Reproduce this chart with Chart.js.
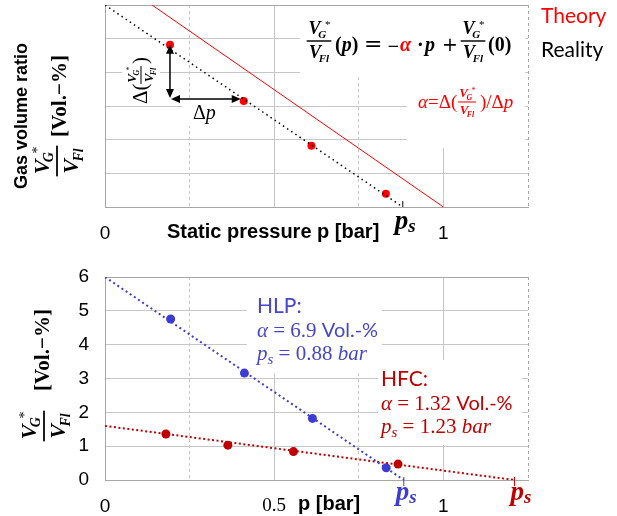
<!DOCTYPE html>
<html>
<head>
<meta charset="utf-8">
<script src="https://cdn.jsdelivr.net/npm/chart.js@4.4.1/dist/chart.umd.min.js"></script>
<style>
  body { margin: 0; background: #fff; }
  #wrap { position: relative; width: 617px; height: 516px; }
  canvas { position: absolute; left: 0; top: 0; }
</style>
</head>
<body>
<div id="wrap">
  <canvas id="top-chart" width="617" height="516"></canvas>
  <canvas id="bottom-chart" width="617" height="516"></canvas>
</div>
<script>
// Bottom chart: measured points (p in bar, gas volume ratio in Vol.-%)
const hlpPressure = [0.194, 0.412, 0.613, 0.831];
const hlpRatio = [4.76, 3.16, 1.82, 0.36];
const hfcPressure = [0.180, 0.363, 0.557, 0.866];
const hfcRatio = [1.36, 1.03, 0.84, 0.47];

// Fitted lines (start and end)
const hlpFitPressure = [0, 0.883];
const hlpFitRatio = [6, 0];
const hfcFitPressure = [0, 1.21];
const hfcFitRatio = [1.6, 0];

// Top sketch
const sketchPressure = [0.192, 0.41, 0.61, 0.83];
const sketchRatio = [4.82, 3.15, 1.82, 0.39];
const theoryPressure = [0.139, 1];
const theoryRatio = [6, 0];
const realityPressure = [0, 0.88];
const realityRatio = [6, 0];

// Tick labels that are shown
const xLabelsTop = [0, 1];
const xLabelsBottom = [0, 0.5, 1];
const yLabelsBottom = [0, 1, 2, 3, 4, 5, 6];

const SERIF = '"Liberation Serif", "DejaVu Serif", serif';
const SANS = '"Liberation Sans", Arial, sans-serif';
const LATO = 'Lato, "Open Sans", sans-serif';
const MATH = '"DejaVu Sans", sans-serif';

const RED = '#ff0000';
const DARK_RED = '#c00000';
const BLUE = '#3c3cd4';
const BLUE_TEXT = '#4646cc';
const GRID = '#c6c6c6';
const FRAME = '#a6a6a6';

function pts(xs, ys) {
    return xs.map((x, i) => ({ x: x, y: ys[i] }));
}

// draw a list of text pieces one after another on one baseline
function runs(ctx, x, y, list, color) {
    ctx.textAlign = 'left';
    ctx.textBaseline = 'alphabetic';
    list.forEach(r => {
        ctx.font = r.f;
        ctx.fillStyle = r.c || color;
        ctx.fillText(r.t, x, y + (r.dy || 0));
        x += ctx.measureText(r.t).width;
    });
    return x;
}

// V with subscript (and star), returns its width
function vSym(ctx, x, y, sub, star, size, draw) {
    ctx.textAlign = 'left';
    ctx.textBaseline = 'alphabetic';
    ctx.font = 'italic bold ' + size + 'px ' + SERIF;
    const vw = ctx.measureText('V').width;
    if (draw) ctx.fillText('V', x, y);
    const s = Math.round(size * 0.62);
    ctx.font = 'italic bold ' + s + 'px ' + SERIF;
    const sw = ctx.measureText(sub).width;
    const sx = x + vw - size * 0.12;
    if (draw) ctx.fillText(sub, sx, y + size * 0.22);
    if (star && draw) {
        ctx.font = s + 'px ' + SERIF;
        ctx.fillText('*', sx + sw * 0.85, y - size * 0.32);
    }
    return vw - size * 0.12 + sw + (star ? s * 0.3 : 0);
}

// VG*/VFl fraction, line centred at (cx, cy)
function frac(ctx, cx, cy, size) {
    const nw = vSym(ctx, 0, 0, 'G', true, size, false);
    const dw = vSym(ctx, 0, 0, 'Fl', false, size, false);
    const w = Math.max(nw, dw) + size * 0.2;
    vSym(ctx, cx - nw / 2, cy - size * 0.38, 'G', true, size, true);
    ctx.fillRect(cx - w / 2, cy - size * 0.04, w, Math.max(1, size * 0.08));
    vSym(ctx, cx - dw / 2, cy + size * 0.95, 'Fl', false, size, true);
    return w;
}

function rotated(ctx, x, y, fn) {
    ctx.save();
    ctx.translate(x, y);
    ctx.rotate(-Math.PI / 2);
    fn();
    ctx.restore();
}

function head(ctx, x, y, ang) {
    ctx.save();
    ctx.translate(x, y);
    ctx.rotate(ang);
    ctx.beginPath();
    ctx.moveTo(0, 0);
    ctx.lineTo(-9, -4);
    ctx.lineTo(-9, 4);
    ctx.closePath();
    ctx.fill();
    ctx.restore();
}

function psLabel(ctx, x, y, color) {
    runs(ctx, x, y, [
        { t: 'p', f: 'italic bold 27px ' + SERIF },
        { t: 's', f: 'italic bold 19px ' + SERIF, dy: 3 }
    ], color);
}

function xGridColor(c) {
    return c.tick && (c.tick.value === 0 || c.tick.value === 1.25) ? FRAME : GRID;
}
function xGridDash(c) {
    return c.tick && (c.tick.value * 4) % 2 === 1 ? [3, 3] : [];
}
function yGridColor(c) {
    return c.tick && (c.tick.value === 0 || c.tick.value === 6) ? FRAME : GRID;
}

// Notes of the top sketch
const topNotes = {
    id: 'topNotes',
    beforeDatasetsDraw(chart) {
        const ctx = chart.ctx;
        ctx.save();
        ctx.fillStyle = '#fff';
        ctx.fillRect(300, 6, 225, 71);
        ctx.fillRect(407, 77, 118, 71);
        ctx.fillRect(122, 48, 38, 58);
        ctx.fillRect(182, 100, 48, 26);
        ctx.restore();
    },
    afterDraw(chart) {
        const ctx = chart.ctx;
        const xs = chart.scales.x, ys = chart.scales.y;
        ctx.save();

        // labels on the right
        runs(ctx, 541, 23, [{ t: 'Theory', f: '21px ' + LATO }], RED);
        runs(ctx, 541, 57, [{ t: 'Reality', f: '21px ' + LATO }], '#000');

        // axis titles
        ctx.fillStyle = '#000';
        rotated(ctx, 22, 116, () => {
            ctx.font = 'bold 18px ' + SANS;
            ctx.textAlign = 'center';
            ctx.textBaseline = 'middle';
            ctx.fillText('Gas volume ratio', 0, 0);
        });
        rotated(ctx, 57, 161, () => frac(ctx, 0, 0, 22));
        rotated(ctx, 61, 96, () => {
            ctx.font = 'bold 21px ' + SERIF;
            ctx.textAlign = 'center';
            ctx.textBaseline = 'middle';
            ctx.fillText('[Vol.\u2212%]', 0, 0);
        });
        runs(ctx, 167, 238, [{ t: 'Static pressure p [bar]', f: 'bold 20px ' + SANS }], '#000');

        // saturation pressure mark
        const px = xs.getPixelForValue(realityPressure[1]);
        ctx.strokeStyle = '#000';
        ctx.lineWidth = 1;
        ctx.beginPath();
        ctx.moveTo(px, ys.bottom - 6);
        ctx.lineTo(px, ys.bottom);
        ctx.stroke();
        psLabel(ctx, px - 8, 229, '#000');

        // equation
        ctx.fillStyle = '#000';
        frac(ctx, 319, 41, 18);
        const B = 'bold 20px ' + SERIF, BI = 'italic bold 20px ' + SERIF;
        runs(ctx, 335, 51, [{ t: '(', f: B }, { t: 'p', f: BI }, { t: ')', f: B }], '#000');
        runs(ctx, 364, 51, [{ t: '=', f: '22px ' + MATH }], '#000');
        runs(ctx, 387, 51, [{ t: '\u2212', f: '15px ' + MATH }], '#000');
        runs(ctx, 400, 51, [{ t: '\u03b1', f: BI }], RED);
        runs(ctx, 417, 51, [{ t: '\u00b7', f: B }], '#000');
        runs(ctx, 425, 51, [{ t: 'p', f: BI }], '#000');
        runs(ctx, 442, 51, [{ t: '+', f: '19px ' + MATH }], '#000');
        ctx.fillStyle = '#000';
        frac(ctx, 473, 41, 18);
        runs(ctx, 488, 51, [{ t: '(0)', f: B }], '#000');

        // alpha definition
        const R = '19px ' + SERIF, RI = 'italic 19px ' + SERIF;
        runs(ctx, 418, 108, [{ t: '\u03b1', f: RI }, { t: '=\u0394(', f: R }], RED);
        ctx.fillStyle = RED;
        frac(ctx, 467, 102, 13);
        runs(ctx, 480, 108, [{ t: ')/\u0394', f: R }, { t: 'p', f: RI }], RED);

        // delta arrows
        const x1 = xs.getPixelForValue(sketchPressure[0]);
        const y1 = ys.getPixelForValue(sketchRatio[0]);
        const x2 = xs.getPixelForValue(sketchPressure[1]);
        const y2 = ys.getPixelForValue(sketchRatio[1]) - 2;
        ctx.strokeStyle = '#000';
        ctx.fillStyle = '#000';
        ctx.lineWidth = 1.5;
        ctx.beginPath();
        ctx.moveTo(x1, y1 + 4);
        ctx.lineTo(x1, y2 - 4);
        ctx.moveTo(x1 + 4, y2);
        ctx.lineTo(x2 - 8, y2);
        ctx.stroke();
        head(ctx, x1, y1, -Math.PI / 2);
        head(ctx, x1, y2 - 1, Math.PI / 2);
        head(ctx, x1 + 1, y2, Math.PI);
        head(ctx, x2 - 3, y2, 0);

        rotated(ctx, 143, 104, () => {
            runs(ctx, 0, 4, [{ t: '\u0394(', f: '21px ' + SERIF }], '#000');
            ctx.fillStyle = '#000';
            frac(ctx, 29, -2, 13);
            runs(ctx, 40, 4, [{ t: ')', f: '21px ' + SERIF }], '#000');
        });
        runs(ctx, 193, 119, [{ t: '\u0394', f: '20px ' + SERIF }, { t: 'p', f: 'italic 20px ' + SERIF }], '#000');

        ctx.restore();
    }
};

// Notes of the bottom chart
const bottomNotes = {
    id: 'bottomNotes',
    beforeDatasetsDraw(chart) {
        const ctx = chart.ctx;
        ctx.save();
        ctx.fillStyle = '#fff';
        ctx.fillRect(247, 278, 135, 95);
        ctx.fillRect(378, 360, 144, 85);
        ctx.restore();
    },
    afterDraw(chart) {
        const ctx = chart.ctx;
        const xs = chart.scales.x, ys = chart.scales.y;
        ctx.save();

        // axis titles
        ctx.fillStyle = '#000';
        rotated(ctx, 44, 426, () => frac(ctx, 0, 0, 22));
        rotated(ctx, 44, 350, () => {
            ctx.font = 'bold 21px ' + SERIF;
            ctx.textAlign = 'center';
            ctx.textBaseline = 'middle';
            ctx.fillText('[Vol.\u2212%]', 0, 0);
        });
        runs(ctx, 298, 510, [{ t: 'p [bar]', f: 'bold 20px ' + SANS }], '#000');

        // text boxes
        const L = '20px ' + LATO, S = '21px ' + SERIF, SI = 'italic 21px ' + SERIF;
        function block(x, y, name, alpha, ps, color) {
            runs(ctx, x, y, [{ t: name, f: '21px ' + LATO }], color);
            runs(ctx, x, y + 24, [{ t: '\u03b1', f: SI }, { t: ' = ' + alpha + ' ', f: S }, { t: 'Vol.-%', f: L }], color);
            runs(ctx, x, y + 47, [{ t: 'p', f: SI }, { t: 's', f: 'italic 15px ' + SERIF, dy: 4 },
                { t: ' = ' + ps + ' ', f: S }, { t: 'bar', f: SI }], color);
        }
        block(257, 313, 'HLP:', '6.9', '0.88', BLUE_TEXT);
        block(381, 386, 'HFC:', '1.32', '1.23', DARK_RED);

        // saturation pressure marks
        [[hlpFitPressure[1], BLUE, -8], [hfcFitPressure[1], DARK_RED, -4]].forEach(m => {
            const px = xs.getPixelForValue(m[0]);
            ctx.strokeStyle = m[1];
            ctx.lineWidth = 1;
            ctx.beginPath();
            ctx.moveTo(px, ys.bottom - 3);
            ctx.lineTo(px, ys.bottom + 6);
            ctx.stroke();
            psLabel(ctx, px + m[2], 500, m[1]);
        });

        ctx.restore();
    }
};

// Top sketch chart
new Chart(document.getElementById('top-chart'), {
    type: 'scatter',
    data: {
        datasets: [
            {
                data: pts(theoryPressure, theoryRatio),
                showLine: true, borderColor: RED, borderWidth: 1, pointRadius: 0
            },
            {
                data: pts(realityPressure, realityRatio),
                showLine: true, borderColor: '#000', borderWidth: 1.5, borderDash: [1.5, 3.5], pointRadius: 0
            },
            {
                data: pts(sketchPressure, sketchRatio),
                backgroundColor: RED, borderWidth: 0, pointRadius: 4
            }
        ]
    },
    options: {
        responsive: false,
        animation: false,
        events: [],
        layout: { padding: { top: 5, right: 89, left: 0, bottom: 0 } },
        plugins: { legend: { display: false }, tooltip: { enabled: false } },
        scales: {
            x: {
                type: 'linear', min: 0, max: 1.25,
                ticks: {
                    stepSize: 0.25, autoSkip: false, maxRotation: 0, padding: 15, color: '#000',
                    font: { family: SANS, size: 19 },
                    callback: v => xLabelsTop.includes(v) ? String(v) : ''
                },
                grid: { color: xGridColor, drawTicks: false },
                border: { color: FRAME, dash: xGridDash },
                afterFit: s => { s.height = 309; }
            },
            y: {
                min: 0, max: 6,
                ticks: { stepSize: 1, display: false },
                grid: { color: yGridColor, drawTicks: false },
                border: { color: FRAME },
                afterFit: s => { s.width = 105; }
            }
        }
    },
    plugins: [topNotes]
});

// Bottom measurement chart
new Chart(document.getElementById('bottom-chart'), {
    type: 'scatter',
    data: {
        datasets: [
            {
                data: pts(hlpFitPressure, hlpFitRatio),
                showLine: true, borderColor: BLUE, borderWidth: 2, borderDash: [2, 3], pointRadius: 0
            },
            {
                data: pts(hfcFitPressure, hfcFitRatio),
                showLine: true, borderColor: DARK_RED, borderWidth: 2, borderDash: [2, 2.5], pointRadius: 0
            },
            {
                data: pts(hlpPressure, hlpRatio),
                backgroundColor: BLUE, borderWidth: 0, pointRadius: 4.5
            },
            {
                data: pts(hfcPressure, hfcRatio),
                backgroundColor: DARK_RED, borderWidth: 0, pointRadius: 4.5
            }
        ]
    },
    options: {
        responsive: false,
        animation: false,
        events: [],
        layout: { padding: { top: 277, right: 89, left: 0, bottom: 0 } },
        plugins: { legend: { display: false }, tooltip: { enabled: false } },
        scales: {
            x: {
                type: 'linear', min: 0, max: 1.25,
                ticks: {
                    stepSize: 0.25, autoSkip: false, maxRotation: 0, padding: 15, color: '#000',
                    font: c => (c.tick && c.tick.value === 0.5)
                        ? { family: SERIF, size: 19 }
                        : { family: SANS, size: 19 },
                    callback: v => xLabelsBottom.includes(v) ? String(v) : ''
                },
                grid: { color: xGridColor, drawTicks: false },
                border: { color: FRAME, dash: xGridDash },
                afterFit: s => { s.height = 36; }
            },
            y: {
                min: 0, max: 6,
                ticks: {
                    stepSize: 1, padding: 16, color: '#000',
                    font: { family: SANS, size: 19 },
                    callback: v => yLabelsBottom.includes(v) ? String(v) : ''
                },
                grid: { color: yGridColor, drawTicks: false },
                border: { color: FRAME },
                afterFit: s => { s.width = 105; }
            }
        }
    },
    plugins: [bottomNotes]
});
</script>
</body>
</html>
